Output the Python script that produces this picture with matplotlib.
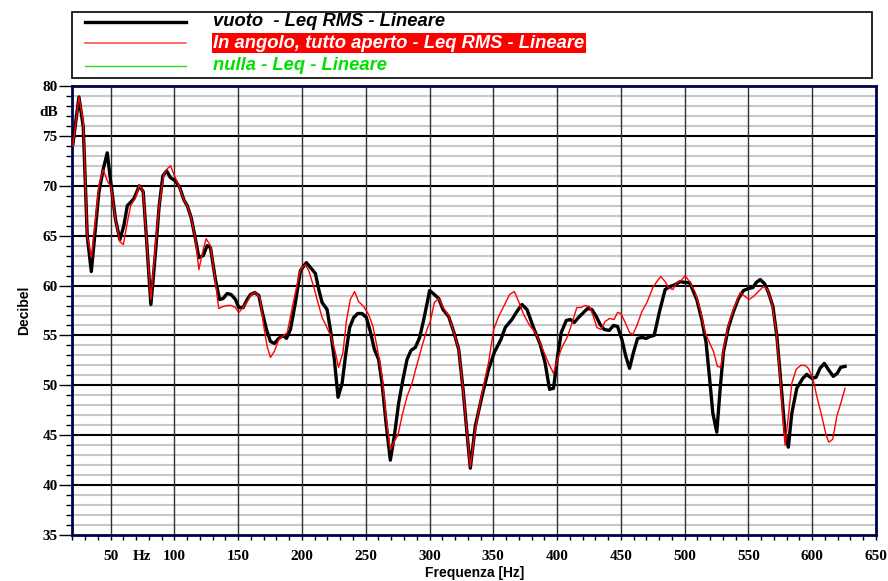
import numpy as np
import matplotlib as mpl
mpl.use('Agg')
import matplotlib.pyplot as plt
from matplotlib.patches import Rectangle
from matplotlib.lines import Line2D

# vuoto - Leq RMS - Lineare (black)
FREQ_VUOTO = [20.5, 25.2, 28.6, 31.7, 34.9, 40.8, 44.3, 47.4, 50.5, 53.9, 57.3, 60.4, 63.1, 68.3,
              72.5, 75.6, 78.2, 81.6, 85.2, 88.1, 91.0, 93.9, 97.0, 100.9, 104.3, 107.4, 110.1,
              113.2, 116.6, 119.2, 122.6, 125.7, 128.3, 132.2, 135.4, 138.2, 141.4, 144.5, 147.9,
              150.5, 153.9, 157.1, 159.7, 163.0, 166.2, 168.8, 172.2, 175.3, 178.4, 181.8, 185.3,
              187.9, 191.0, 194.9, 198.8, 203.5, 206.7, 210.6, 213.2, 215.8, 219.7, 222.3, 225.4,
              228.3, 231.5, 234.1, 237.4, 240.6, 243.7, 247.1, 250.5, 253.6, 256.8, 260.1, 262.8,
              266.2, 269.3, 272.4, 275.8, 279.2, 282.4, 285.5, 288.9, 292.3, 296.0, 300.1, 303.8,
              307.2, 310.6, 315.0, 318.9, 322.9, 326.3, 329.4, 332.0, 335.9, 341.1, 346.3, 350.8,
              356.0, 359.4, 364.6, 368.5, 372.5, 376.4, 381.5, 386.8, 390.7, 394.1, 397.2, 400.4,
              403.3, 407.2, 410.3, 413.5, 416.8, 420.8, 423.9, 427.3, 430.7, 433.8, 436.9, 440.9,
              444.2, 447.4, 450.8, 453.9, 456.8, 459.9, 463.1, 466.5, 469.8, 473.0, 476.1, 480.3,
              484.7, 488.6, 492.6, 496.5, 500.4, 503.8, 505.6, 509.5, 513.4, 516.8, 519.4, 522.1,
              525.2, 527.8, 530.4, 534.3, 538.3, 542.2, 546.1, 550.0, 553.5, 556.1, 559.2, 562.6,
              565.7, 569.2, 572.3, 575.5, 578.7, 581.3, 584.0, 587.9, 592.6, 595.7, 599.6, 603.0,
              606.1, 609.5, 612.6, 616.5, 619.6, 622.3, 625.7]
DB_VUOTO = [74.2, 78.9, 75.9, 65.0, 61.4, 69.3, 71.7, 73.3, 70.0, 66.6, 64.6, 66.0, 68.0, 68.7,
            70.0, 69.4, 64.6, 58.1, 63.3, 68.0, 71.0, 71.5, 70.8, 70.5, 69.8, 68.6, 68.0,
            66.8, 64.6, 62.8, 63.0, 64.0, 63.8, 60.6, 58.6, 58.7, 59.2, 59.1, 58.6,
            57.8, 57.8, 58.6, 59.1, 59.3, 59.0, 57.4, 55.6, 54.4, 54.2, 54.7, 55.0,
            54.7, 55.6, 58.3, 61.5, 62.3, 61.8, 61.2, 59.6, 58.3, 57.6, 55.6, 52.6,
            48.8, 50.2, 52.9, 55.8, 56.8, 57.2, 57.2, 56.8, 55.4, 53.6, 52.6, 50.2,
            45.9, 42.5, 44.9, 48.2, 50.6, 52.6, 53.5, 53.8, 54.8, 56.9, 59.5, 59.1,
            58.7, 57.6, 56.9, 55.4, 53.6, 49.6, 45.2, 41.7, 45.9, 48.9, 51.6, 53.3,
            54.6, 55.8, 56.6, 57.4, 58.1, 57.6, 55.8, 54.1, 52.2, 49.6, 49.7, 52.9,
            55.3, 56.5, 56.6, 56.3, 56.8, 57.3, 57.7, 57.6, 56.9, 56.1, 55.6, 55.5,
            56.0, 55.9, 54.6, 52.9, 51.7, 53.3, 54.7, 54.8, 54.7, 54.9, 55.0, 57.4,
            59.6, 59.9, 60.1, 60.4, 60.3, 60.3, 59.8, 58.6, 56.6, 54.3, 50.9, 47.2,
            45.3, 49.6, 53.3, 55.8, 57.4, 58.7, 59.5, 59.7, 59.8, 60.3, 60.6, 60.2,
            59.3, 57.9, 54.9, 50.2, 45.2, 43.8, 47.2, 49.7, 50.7, 51.1, 50.7, 50.8,
            51.7, 52.2, 51.6, 50.9, 51.2, 51.8, 51.9]

# In angolo, tutto aperto - Leq RMS - Lineare (red)
FREQ_ANGOLO = [20.5, 25.2, 28.6, 31.7, 34.9, 38.2, 40.8, 44.3, 47.4, 50.5, 53.9, 57.3, 60.0, 63.1,
               65.7, 69.6, 72.5, 75.6, 78.2, 81.6, 85.2, 88.1, 91.8, 94.4, 97.0, 100.1, 103.5,
               107.4, 110.1, 113.2, 116.6, 119.2, 122.6, 124.9, 128.3, 131.3, 134.8, 138.2, 141.4,
               144.5, 147.9, 150.5, 153.9, 157.1, 160.2, 163.6, 167.0, 170.1, 172.7, 175.3, 178.4,
               181.8, 185.8, 188.5, 191.0, 194.9, 198.8, 202.7, 205.3, 209.2, 211.9, 215.8, 219.2,
               222.8, 226.2, 228.7, 232.2, 234.8, 237.9, 241.3, 244.4, 248.4, 252.3, 255.7, 258.8,
               262.8, 266.2, 269.3, 272.4, 275.3, 278.4, 282.4, 286.3, 290.2, 294.1, 298.0, 300.6,
               303.8, 307.2, 310.6, 315.0, 318.9, 322.9, 326.3, 329.4, 332.0, 335.9, 341.1, 346.3,
               350.3, 354.2, 358.1, 362.8, 366.5, 369.9, 373.8, 378.5, 383.0, 388.2, 393.4, 397.2,
               400.4, 403.8, 408.2, 412.1, 415.5, 418.7, 422.0, 425.4, 428.5, 431.2, 434.3, 437.7,
               441.1, 444.7, 447.4, 450.0, 453.4, 456.8, 459.4, 462.6, 466.5, 470.4, 475.1, 478.2,
               481.3, 484.7, 487.3, 490.8, 493.8, 497.2, 500.4, 504.3, 508.3, 512.2, 516.1, 519.4,
               522.6, 525.7, 528.4, 530.9, 534.3, 538.3, 543.5, 547.4, 550.5, 553.9, 557.8, 561.7,
               564.9, 568.3, 571.6, 574.8, 577.4, 578.7, 581.3, 584.0, 587.4, 591.0, 594.4, 597.0,
               600.5, 603.6, 607.5, 610.9, 613.0, 616.1, 619.3, 622.4, 625.7]
DB_ANGOLO = [74.0, 78.9, 76.4, 65.0, 62.8, 66.6, 70.0, 71.6, 70.5, 69.8, 66.6, 64.4, 64.1, 66.3,
             68.0, 68.8, 70.1, 69.4, 64.6, 58.6, 64.0, 68.0, 71.2, 71.7, 72.0, 71.0, 70.0,
             68.6, 68.0, 66.8, 64.6, 61.6, 63.6, 64.7, 64.0, 61.3, 57.7, 57.9, 58.0,
             58.0, 57.8, 57.3, 57.8, 58.4, 59.1, 59.3, 58.8, 55.9, 53.9, 52.8, 53.4,
             54.6, 55.0, 55.3, 56.9, 59.3, 61.6, 62.1, 61.5, 59.9, 58.6, 56.8, 55.9,
             54.9, 53.3, 51.8, 53.3, 56.4, 58.6, 59.4, 58.4, 57.9, 57.1, 55.9, 53.9,
             50.9, 46.6, 43.5, 44.4, 45.0, 46.9, 48.9, 50.2, 52.1, 53.9, 55.6, 56.4,
             58.3, 58.7, 57.8, 57.0, 55.4, 53.6, 49.6, 45.2, 41.8, 45.6, 49.2, 52.3,
             55.6, 56.9, 57.9, 59.1, 59.4, 58.4, 57.1, 56.0, 55.3, 53.8, 52.2, 51.2,
             52.6, 53.8, 54.9, 56.4, 57.8, 57.8, 58.0, 57.9, 56.9, 55.8, 55.6, 56.4,
             56.7, 56.6, 57.3, 57.2, 56.3, 55.3, 55.1, 56.0, 57.4, 58.3, 59.8, 60.4,
             60.9, 60.4, 59.8, 59.6, 60.3, 60.5, 61.0, 60.3, 59.3, 57.6, 55.3, 54.3,
             53.4, 51.9, 51.8, 53.9, 56.1, 57.6, 59.3, 58.9, 58.6, 58.9, 59.4, 59.9,
             59.6, 58.3, 55.6, 50.9, 46.2, 44.0, 46.9, 50.2, 51.6, 52.0, 52.0, 51.7,
             50.7, 48.9, 46.9, 45.0, 44.3, 44.6, 46.9, 48.2, 49.7]

LABELS = ["vuoto  - Leq RMS - Lineare",
          "In angolo, tutto aperto - Leq RMS - Lineare",
          "nulla - Leq - Lineare"]
X_TICKS = [50, 75, 100, 150, 200, 250, 300, 350, 400, 450, 500, 550, 600, 650]
X_LABELS = ['50', 'Hz', '100', '150', '200', '250', '300', '350', '400', '450', '500', '550', '600', '650']
Y_TICKS = [35, 40, 45, 50, 55, 60, 65, 70, 75, 77.5, 80]
Y_LABELS = ['35', '40', '45', '50', '55', '60', '65', '70', '75', 'dB', '80']

NAVY = '#000050'

fig = plt.figure(figsize=(8.88, 5.81), dpi=100)
ax = fig.add_axes([72.3 / 888, 1 - 535 / 581, (876 - 72.3) / 888, (535 - 86) / 581])

ax.set_xlim(20, 650)
ax.set_ylim(35, 80)

# grid: light grey every dB, black every 5 dB, dark verticals every 50 Hz
for v in range(36, 80):
    if v % 5:
        ax.axhline(v, color='#c8c8c8', lw=1.5, zorder=0)
for v in range(40, 80, 5):
    ax.axhline(v, color='black', lw=1.5, zorder=1)
for f in range(50, 650, 50):
    ax.axvline(f, color='#303030', lw=1.0, zorder=1)

ax.plot(FREQ_VUOTO, DB_VUOTO, color='black', lw=2.4, zorder=3)
ax.plot(FREQ_ANGOLO, DB_ANGOLO, color='red', lw=1.0, zorder=4)

for s in ax.spines.values():
    s.set_color(NAVY)
    s.set_linewidth(2)

# ticks (Hz / dB ride along as labels with no tick mark)
ax.set_yticks(Y_TICKS)
ax.set_yticks(range(35, 81), minor=True)
ax.set_xticks(X_TICKS)
ax.set_xticks(range(20, 651, 10), minor=True)
ax.tick_params(axis='y', which='major', length=9.5, width=1, direction='out', pad=1)
ax.tick_params(axis='y', which='minor', length=4.3, width=1, direction='out')
ax.tick_params(axis='x', which='both', length=3.6, width=1, direction='out', pad=7)

serif = {'family': 'Liberation Serif', 'weight': 'bold', 'size': 11}
ax.set_yticklabels(Y_LABELS, fontdict=serif)
ax.set_xticklabels(X_LABELS, fontdict=serif)
ax.yaxis.get_major_ticks()[Y_LABELS.index('dB')].tick1line.set_visible(False)
ax.xaxis.get_major_ticks()[X_LABELS.index('Hz')].tick1line.set_visible(False)

ax.set_xlabel('Frequenza [Hz]', fontsize=10, fontweight='bold', family='Liberation Sans')
ax.set_ylabel('Decibel', fontsize=10, fontweight='bold', family='Liberation Sans', labelpad=6)
ax.xaxis.set_label_coords(0.5, -0.068)

# legend box drawn by hand
W, H = 888.0, 581.0
fig.add_artist(Rectangle((72 / W, 1 - 77.7 / H), 800 / W, 66 / H, transform=fig.transFigure,
                         facecolor='white', edgecolor='black', lw=1.2))
rows = [21.7, 43.3, 65.7]
styles = [('black', 2.4), ('#ff5050', 1.2), ('#20e020', 1.0)]
for r, (c, lw), lab in zip(rows, styles, LABELS):
    y = 1 - r / H
    fig.add_artist(Line2D([85 / W, 186 / W], [y, y], transform=fig.transFigure, color=c, lw=lw))
font = dict(family='Liberation Sans', fontsize=13.2, fontweight='bold', style='italic', va='center')
fig.text(213 / W, 1 - rows[0] / H, LABELS[0], color='black', **font)
fig.text(213 / W, 1 - rows[1] / H, LABELS[1], color='white',
         bbox=dict(facecolor='red', edgecolor='none', boxstyle='square,pad=0.08'), **font)
fig.text(213 / W, 1 - rows[2] / H, LABELS[2], color='#00e000', **font)

fig.savefig('out.png', dpi=100)
plt.close(fig)
